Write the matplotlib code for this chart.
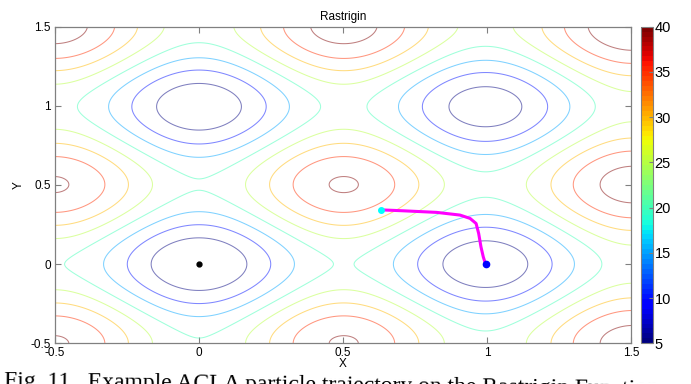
import numpy as np
import matplotlib
matplotlib.use("Agg")
import matplotlib.pyplot as plt
from matplotlib import cm, colors

plt.rcParams['font.family'] = ['Liberation Sans', 'DejaVu Sans']

# Contour levels of the Rastrigin surface
levels = [5, 10, 15, 20, 25, 30, 35, 40]
cbar_ticks = [5, 10, 15, 20, 25, 30, 35, 40]
x_ticks = [-0.5, 0, 0.5, 1, 1.5]
y_ticks = [-0.5, 0, 0.5, 1, 1.5]
x_tick_labels = ['-0.5', '0', '0.5', '1', '1.5']
y_tick_labels = ['-0.5', '0', '0.5', '1', '1.5']

# Particle trajectory
traj_x = [0.631, 0.709, 0.825, 0.906, 0.941, 0.962, 0.971, 0.979, 0.987, 0.995]
traj_y = [0.343, 0.337, 0.327, 0.310, 0.289, 0.257, 0.194, 0.109, 0.046, 0.0]
global_min = (0.0, 0.0)


def rastrigin(x, y, a=10.0):
    return 2 * a + (x ** 2 - a * np.cos(2 * np.pi * x)) + (y ** 2 - a * np.cos(2 * np.pi * y))


gx = np.linspace(-0.5, 1.5, 401)
gy = np.linspace(-0.5, 1.5, 401)
X, Y = np.meshgrid(gx, gy)
Z = rastrigin(X, Y)

fig = plt.figure(figsize=(6.91, 3.84), dpi=100)
ax = fig.add_axes([0.0796, 0.106, 0.8336, 0.8245])
cax = fig.add_axes([0.9276, 0.106, 0.0178, 0.8245])

norm = colors.Normalize(vmin=5, vmax=40)
cmap = plt.get_cmap('jet', 64)
ax.contour(X, Y, Z, levels=levels, cmap=plt.get_cmap('jet'), norm=norm,
           linewidths=0.75, alpha=0.5)

ax.plot(traj_x, traj_y, color='#ff00ff', lw=2.2, solid_capstyle='round', zorder=3)
ax.plot(traj_x[0], traj_y[0], 'o', color='#00ffff', ms=4, zorder=4)
ax.plot(traj_x[-1], traj_y[-1], 'o', color='#0000ff', ms=4.5, zorder=4)
ax.plot(*global_min, 'o', color='black', ms=3.5, zorder=4)

ax.set_xlim(-0.5, 1.5)
ax.set_ylim(-0.5, 1.5)
ax.set_xticks(x_ticks)
ax.set_xticklabels(x_tick_labels)
ax.set_yticks(y_ticks)
ax.set_yticklabels(y_tick_labels)
ax.tick_params(direction='in', length=4, width=0.8, color='#808080',
               top=True, right=True, labelsize=8.5, pad=3)
for s in ax.spines.values():
    s.set_color('#808080')
    s.set_linewidth(0.9)
ax.set_title('Rastrigin', fontsize=8.5, pad=5)
ax.set_xlabel('X', fontsize=8.5, labelpad=-1)
ax.set_ylabel('Y', fontsize=8.5, labelpad=4)

cb = fig.colorbar(cm.ScalarMappable(norm=norm, cmap=cmap), cax=cax, ticks=cbar_ticks)
cb.outline.set_edgecolor('#808080')
cb.outline.set_linewidth(0.8)
cax.tick_params(direction='in', length=3, width=0.8, color='#808080',
                labelsize=10.5, pad=1)

fig.text(0.006, -0.007, 'Fig. 11.  Example ACLA particle trajectory on the Rastrigin Function',
         family=['Liberation Serif', 'DejaVu Serif'], fontsize=17,
         va='baseline', ha='left', rotation=-0.75, rotation_mode='anchor')

fig.savefig('out.png', dpi=100)
